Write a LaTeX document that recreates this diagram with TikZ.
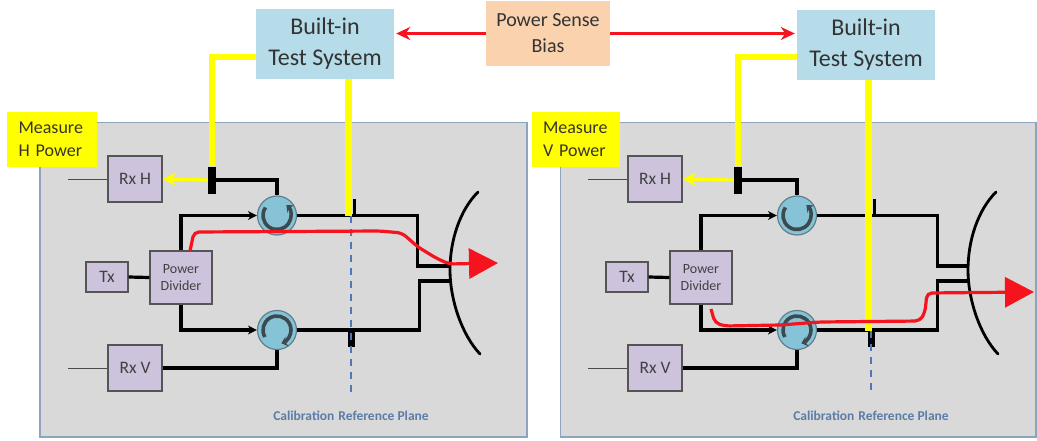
\documentclass[tikz,border=0pt]{standalone}
\usepackage{fontspec}
\setmainfont{Carlito}
\usetikzlibrary{arrows.meta,calc}
\definecolor{panelgray}{HTML}{D9D9D9}
\definecolor{paneledge}{HTML}{8DA3BE}
\definecolor{lilac}{HTML}{CDC3DC}
\definecolor{boxedge}{HTML}{555555}
\definecolor{skybox}{HTML}{B5DCE8}
\definecolor{peach}{HTML}{FBD2AE}
\definecolor{circfill}{HTML}{86C3D6}
\definecolor{circedge}{HTML}{5F7F8E}
\definecolor{arcgray}{HTML}{3C4A50}
\definecolor{planeblue}{HTML}{4F79B5}
\definecolor{labelblue}{HTML}{5C7CA8}
\definecolor{hotred}{HTML}{F5141E}
\definecolor{sig}{HTML}{FFFF00}
\tikzset{
  x=1pt,y=-1pt,
  panelbox/.style={draw=paneledge,line width=1.2pt,fill=panelgray},
  measure/.style={fill=sig,minimum width=90pt,minimum height=55pt,align=left,font=\fontsize{18}{23}\selectfont,text=black!80!olive,inner sep=0pt},
  comp/.style={draw=boxedge,line width=1.2pt,fill=lilac,align=center,inner sep=0pt,text=black!75,font=\fontsize{17.5}{19}\selectfont},
  bist/.style={fill=skybox,minimum width=138pt,minimum height=70pt,align=center,inner sep=0pt,text=black!80,font=\fontsize{24}{31}\selectfont},
  sense/.style={fill=peach,minimum width=124pt,minimum height=65pt,align=center,inner sep=0pt,text=black!80,font=\fontsize{20}{26}\selectfont},
  circ/.style={circle,draw=circedge,line width=1.2pt,fill=circfill,minimum size=39pt,inner sep=0pt},
  wire/.style={line width=3.2pt,black},
  thinwire/.style={line width=1pt,black!70},
  feed/.style={wire,-{Stealth[length=9pt,width=9pt]}},
  couplerbar/.style={fill=black,inner sep=0pt},
  yline/.style={line width=5.5pt,sig},
  yvert/.style={line width=7pt,sig},
  redarrow/.style={line width=2.6pt,hotred},
  redtip/.style={-{Stealth[length=14pt,width=13pt]}},
  redpath/.style={line width=3.2pt,hotred,rounded corners=5pt,-{Triangle[length=29pt,width=30pt]}},
  plane/.style={line width=1.3pt,planeblue,dash pattern=on 7pt off 6pt},
  arcline/.style={line width=3.6pt,arcgray,-{Stealth[length=6pt,width=10pt]}},
  planelabel/.style={text=labelblue,font=\bfseries\fontsize{13.5}{15}\selectfont,inner sep=0pt},
}
\newcommand{\panelparts}[2]{%
  % #1: horizontal correction of the dish and its feeds; #2: of the H coupler
  \node[comp,minimum width=54pt,minimum height=46pt] (rxh) at (135,179) {Rx H};
  \node[comp,minimum width=54pt,minimum height=46pt] (rxv) at (135,368) {Rx V};
  \node[comp,minimum width=42pt,minimum height=30pt] (tx) at (107,277) {Tx};
  \node[comp,minimum width=62pt,minimum height=53pt,font=\fontsize{14}{17}\selectfont] (pd) at (181,277.5) {Power\\Divider};
  \node[circ] (ct) at (277,215.5) {};
  \node[circ] (cb) at (277,330) {};
  \coordinate (rxhfree) at (68,179);
  \coordinate (rxvfree) at (68,368);
  \node[couplerbar,minimum width=8pt,minimum height=27pt] (cpl) at (212+#2,180) {};
  \node[couplerbar,minimum width=2.8pt,minimum height=16pt] (cupr) at (354.5,207) {};
  \node[couplerbar,minimum width=7pt,minimum height=16pt] (clow) at (351,339) {};
  \coordinate (dishtop) at (478+#1,192);
  \coordinate (dishbot) at (480+#1,354);
  \coordinate (dishmid) at (450+#1,270);
  \coordinate (portA) at (450+#1,266);
  \coordinate (portB) at (450+#1,281);
  \coordinate (planeend) at (351,395);
  \draw[thinwire] (rxhfree) -- (rxh.west);
  \draw[thinwire] (rxvfree) -- (rxv.west);
  \draw[wire] (tx.east) -- (pd.west);
  \draw[feed] (pd.north) |- (ct.west);
  \draw[feed] (pd.south) |- (cb.west);
  \draw[wire] (cpl.east) -| (ct.north);
  \draw[wire] (rxv.east) -| (cb.south);
  \draw[wire] (ct.east) -- ++(120,0) |- (portA);
  \draw[wire] (cb.east) -- ++(122+#1,0) |- (portB);
  \draw[line width=2.8pt,black,line cap=round] (dishtop) .. controls (460+#1,210) and (450+#1,240) .. (dishmid) .. controls (450+#1,300) and (462+#1,335) .. (dishbot);
  \draw[arcline] ($(ct)+(215:14)$) arc[start angle=215,end angle=-48,radius=14];
  \draw[arcline] ($(cb)+(150:14)$) arc[start angle=150,end angle=432,radius=14];
  \node[planelabel] (plabel) at (351,415.5) {Calibration\hspace{4pt}Reference Plane};
}
\begin{document}
\begin{tikzpicture}
\useasboundingbox (0,0) rectangle (1037,440);
\draw[panelbox] (40,122.5) rectangle (527,437);
\draw[panelbox] (560.5,122.5) rectangle (1036,437);

\node[bist] (bistl) at (325,44) {Built-in\\Test System};
\node[bist] (bistr) at (866,44.5) {Built-in\\Test System};
\node[sense] (ps) at (548,33.5) {Power Sense\\Bias};
\coordinate (ral) at ($(bistl.east |- ps.west)+(2,0)$);
\coordinate (rar) at ($(bistr.west |- ps.east)+(-2,0)$);
\draw[redarrow,redtip] (ps.west) -- (ral);
\draw[redarrow,redtip] (ps.east) -- (rar);

\node[measure,text width=66pt,align=left] (ml) at (51.5,139) {Measure\\H Power};
\node[measure,minimum width=88pt,text width=66pt,align=left] (mr) at (576,139) {Measure\\V Power};

\begin{scope}[name prefix=L-]
  \panelparts{0}{0}
  \coordinate (r0) at (190,251);
  \coordinate (rend) at (498,263);
  \coordinate (ytop) at ($(bistl.south)+(23,0)$);
  \draw[yvert] (ytop) -- (ytop |- ct.east);
  \draw[plane] (clow |- ct.east) -- (planeend);
  \draw[yline] (bistl.west |- 0,57) -| (cpl.north);
  \draw[line width=3.2pt,sig,-{Stealth[length=13pt,width=13pt]}] (cpl.west) -- (rxh.east);
  \node[couplerbar,minimum width=8pt,minimum height=27pt] at (cpl) {};
  \draw[redpath] (r0) -- (194,232) -- (380,231) -- (402,233) -- (418,247) -- (436,258) -- (449,264) -- (rend);
\end{scope}

\begin{scope}[name prefix=R-,xshift=520pt]
  \panelparts{-2}{6}
  \coordinate (r0) at (191,309);
  \coordinate (rend) at (514,292);
  \coordinate (ytop) at ($(bistr.south)+(2,0)$);
  \draw[yvert] (ytop) -- (ytop |- clow.north);
  \draw[plane] (clow.north) -- (planeend);
  \draw[yline] (bistr.west |- 0,57) -| (cpl.north);
  \draw[line width=3.2pt,sig,-{Stealth[length=13pt,width=13pt]}] (cpl.west) -- (rxh.east);
  \node[couplerbar,minimum width=8pt,minimum height=27pt] at (cpl) {};
  \draw[redpath] (r0) -- (195,323) -- (205,326) -- (260,325) -- (300,322) -- (400,321) -- (405,312) -- (407,293) -- (rend);
\end{scope}
\end{tikzpicture}
\end{document}
